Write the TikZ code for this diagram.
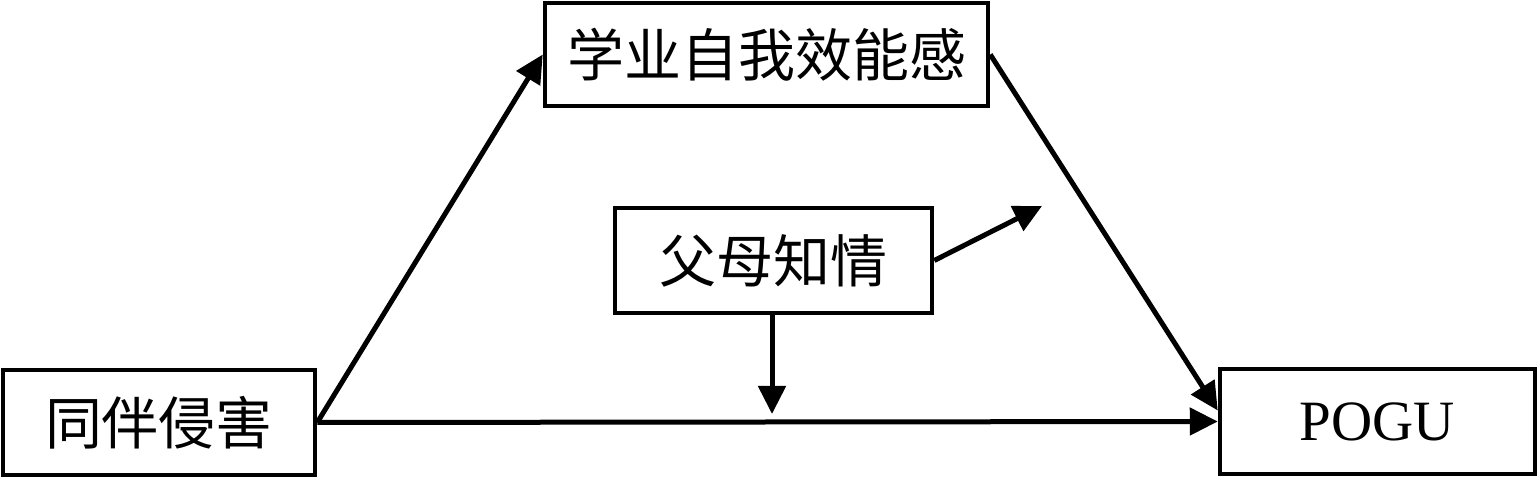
\documentclass[tikz,border=0pt]{standalone}
\usepackage{fontspec}
\setmainfont{Liberation Serif}
\newfontfamily\cjk{Noto Sans CJK SC}
\usetikzlibrary{arrows.meta}
\begin{document}
\begin{tikzpicture}[x=1pt,y=1pt,
  box/.style={draw,line width=4.5pt,inner sep=0pt,font=\fontsize{57}{62}\selectfont},
  arr/.style={line width=5pt,-{Triangle[length=28pt,width=27pt]}}]
\useasboundingbox (0,0) rectangle (1540,479);
\node[box,minimum width=312pt,minimum height=105pt] (A) at (159,56.5) {\cjk 同伴侵害};
\node[box,minimum width=443pt,minimum height=103pt] (B) at (766.5,424.5) {\cjk 学业自我效能感};
\node[box,minimum width=317pt,minimum height=105pt] (C) at (773.5,218.5) {\cjk 父母知情};
\node[box,minimum width=315pt,minimum height=105pt] (D) at (1377.5,57.5) {POGU};
\coordinate (m1) at (772,65);
\coordinate (m2) at (1042,273);
\draw[arr] (A.east) -- (B.west);
\draw[arr] (B.east) -- ([yshift=11pt]D.west);
\draw[arr] (A.east) -- (D.west);
\draw[arr] (C.south -| m1) -- (m1);
\draw[arr] (C.east) -- (m2);
\end{tikzpicture}
\end{document}
